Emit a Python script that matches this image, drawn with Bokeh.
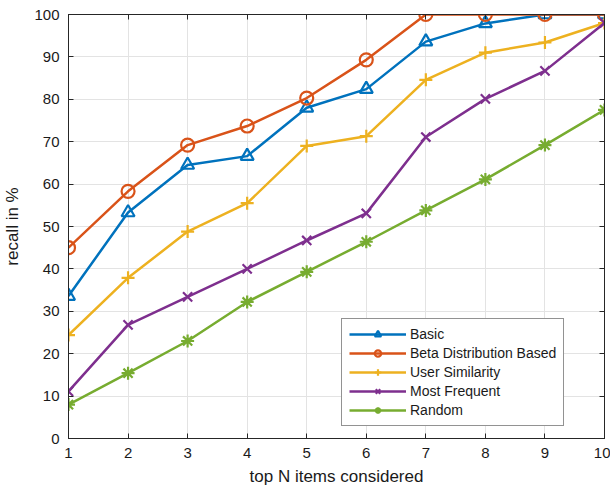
from bokeh.plotting import figure
from bokeh.models import LinearAxis, FixedTicker, Range1d, Legend
from bokeh.embed import file_html
from bokeh.resources import INLINE

topn = [1, 2, 3, 4, 5, 6, 7, 8, 9, 10]
yticks = [0, 10, 20, 30, 40, 50, 60, 70, 80, 90, 100]
basic = [33.6, 53.3, 64.5, 66.6, 78.0, 82.4, 93.6, 97.9, 100.0, 100.0]
beta = [45.0, 58.3, 69.2, 73.7, 80.3, 89.3, 100.0, 100.0, 100.0, 100.0]
usersim = [24.4, 37.9, 48.8, 55.5, 69.0, 71.3, 84.6, 91.0, 93.4, 98.0]
mostfreq = [11.1, 26.8, 33.4, 40.0, 46.7, 53.1, 71.1, 80.1, 86.7, 98.0]
random_ = [8.0, 15.4, 23.0, 32.2, 39.3, 46.4, 53.8, 61.1, 69.2, 77.5]

series = [
    ("Basic", basic, "#0072BD", "triangle"),
    ("Beta Distribution Based", beta, "#D95319", "circle"),
    ("User Similarity", usersim, "#EDB120", "cross"),
    ("Most Frequent", mostfreq, "#7E2F8E", "x"),
    ("Random", random_, "#77AC30", "asterisk"),
]

FONT = "Liberation Sans"
AX = "#262626"

p = figure(width=610, height=488, output_backend="svg", toolbar_location=None,
           x_range=Range1d(1, 10), y_range=Range1d(0, 100),
           min_border_left=10, min_border_right=6, min_border_top=14, min_border_bottom=10)

p.background_fill_color = "white"
p.border_fill_color = "white"
p.outline_line_color = AX
p.outline_line_width = 1

for ax in (p.xaxis[0], p.yaxis[0]):
    ax.major_tick_in = 5
    ax.major_tick_out = 0
    ax.minor_tick_in = 0
    ax.minor_tick_out = 0
    ax.axis_line_color = AX
    ax.major_tick_line_color = AX
    ax.major_label_text_font = FONT
    ax.major_label_text_font_size = "15px"
    ax.major_label_text_color = "#1a1a1a"
    ax.axis_label_text_font = FONT
    ax.axis_label_text_font_size = "17px"
    ax.axis_label_text_font_style = "normal"
    ax.axis_label_text_color = "#1a1a1a"

p.xaxis[0].ticker = FixedTicker(ticks=topn)
p.yaxis[0].ticker = FixedTicker(ticks=yticks)
p.xaxis[0].axis_label = "top N items considered"
p.yaxis[0].axis_label = "recall in %"
p.xaxis[0].major_label_standoff = 9
p.yaxis[0].major_label_standoff = 9
p.xaxis[0].axis_label_standoff = 6
p.yaxis[0].axis_label_standoff = 9

for loc in ("above", "right"):
    ticks = topn if loc == "above" else yticks
    a = LinearAxis(ticker=FixedTicker(ticks=ticks))
    a.major_tick_in = 5
    a.major_tick_out = 0
    a.minor_tick_in = 0
    a.minor_tick_out = 0
    a.major_label_overrides = {t: "" for t in ticks}
    a.major_label_standoff = 0
    a.axis_line_color = AX
    a.major_tick_line_color = AX
    p.add_layout(a, loc)

p.xgrid.ticker = FixedTicker(ticks=topn)
p.ygrid.ticker = FixedTicker(ticks=yticks)
p.grid.grid_line_color = "#e3e3e3"
p.grid.grid_line_width = 1

items = []
for name, vals, color, marker in series:
    r1 = p.line(topn, vals, line_color=color, line_width=2.5)
    r2 = p.scatter(topn, vals, marker=marker, size=13, line_color=color,
                   fill_color=None, line_width=2.2)
    items.append((name, [r1, r2]))

legend = Legend(items=items, location=(273, 12))
legend.label_text_font = FONT
legend.label_text_font_size = "14px"
legend.label_text_color = "#1a1a1a"
legend.glyph_width = 57
legend.glyph_height = 16
legend.label_height = 16
legend.spacing = 3
legend.padding = 7
legend.margin = 0
legend.label_standoff = 4
legend.border_line_color = AX
legend.border_line_width = 1
legend.background_fill_color = "white"
legend.background_fill_alpha = 1
p.add_layout(legend, "center")

open("out.html", "w").write(file_html(p, INLINE))
